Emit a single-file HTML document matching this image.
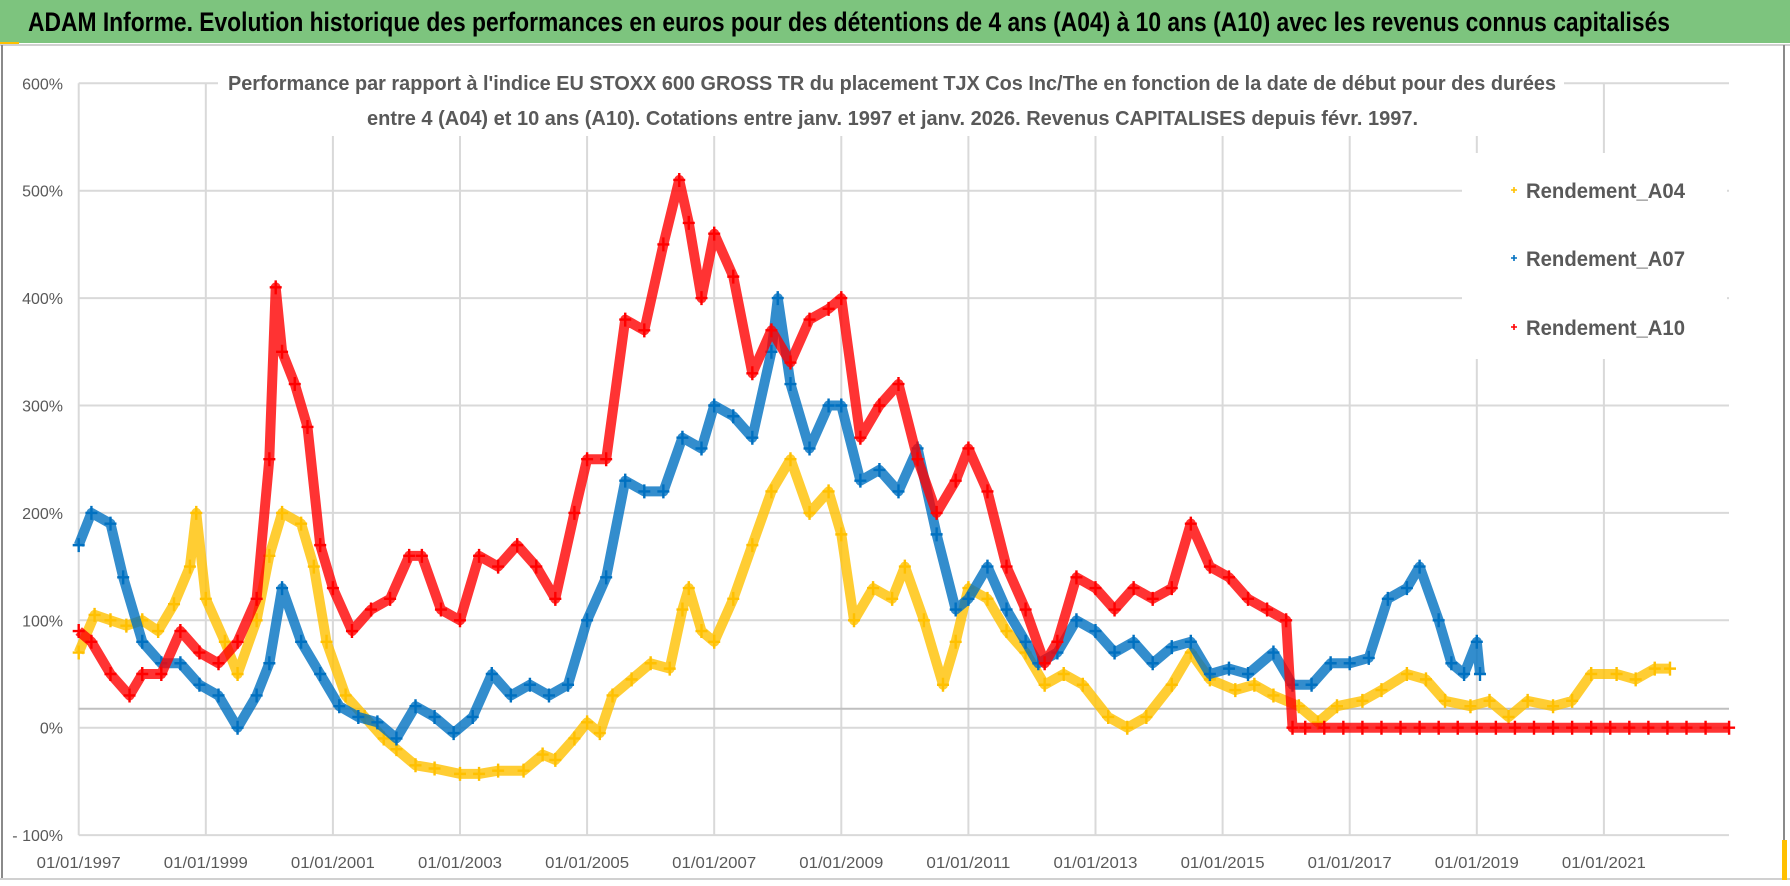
<!DOCTYPE html>
<html><head><meta charset="utf-8"><style>
html,body{margin:0;padding:0;background:#fff}
svg{display:block;font-family:"Liberation Sans",sans-serif}
</style></head><body>
<svg id="chart" width="1790" height="886" viewBox="0 0 1790 886">
<rect x="0" y="0" width="1790" height="886" fill="#fff"/>
<rect x="0" y="0" width="1790" height="43" fill="#7dc47e"/>
<rect x="0" y="42" width="19" height="3" fill="#ffc000"/>
<line x1="0" y1="45" x2="1790" y2="45" stroke="#d0d0d0" stroke-width="2"/>
<text x="28" y="31" font-size="27" font-weight="bold" fill="#000" textLength="1642" lengthAdjust="spacingAndGlyphs">ADAM Informe. Evolution historique des performances en euros pour des détentions de 4 ans (A04) à 10 ans (A10) avec les revenus connus capitalisés</text>
<line x1="2" y1="45" x2="2" y2="880" stroke="#8a8a8a" stroke-width="2"/>
<line x1="1784" y1="45" x2="1784" y2="880" stroke="#8a8a8a" stroke-width="2"/>
<line x1="0" y1="879" x2="1790" y2="879" stroke="#d0d0d0" stroke-width="2"/>
<rect x="1782" y="840" width="5" height="40" fill="#ffc000"/>
<g id="grid"></g>
<g id="series"></g>
<g id="overlay"></g>
</svg>
<script>
const NS='http://www.w3.org/2000/svg';
const yTicks=[600,500,400,300,200,100,0,-100];
const yTickLabels=['600%','500%','400%','300%','200%','100%','0%','- 100%'];
const xTickYears=[1997,1999,2001,2003,2005,2007,2009,2011,2013,2015,2017,2019,2021];
const xTickLabels=['01/01/1997','01/01/1999','01/01/2001','01/01/2003','01/01/2005','01/01/2007','01/01/2009','01/01/2011','01/01/2013','01/01/2015','01/01/2017','01/01/2019','01/01/2021'];
const refLineValue=17.7;

const a04Dates=[1997.0,1997.25,1997.5,1997.75,1998.0,1998.25,1998.5,1998.75,1998.85,1999.0,1999.3,1999.5,1999.8,2000.0,2000.2,2000.5,2000.7,2000.9,2001.2,2001.5,2001.8,2002.0,2002.3,2002.6,2003.0,2003.3,2003.6,2004.0,2004.3,2004.5,2004.8,2005.0,2005.2,2005.4,2005.7,2006.0,2006.3,2006.5,2006.6,2006.8,2007.0,2007.3,2007.6,2007.9,2008.2,2008.5,2008.8,2009.0,2009.2,2009.5,2009.8,2010.0,2010.3,2010.6,2010.8,2011.0,2011.3,2011.6,2011.9,2012.2,2012.5,2012.8,2013.2,2013.5,2013.8,2014.2,2014.5,2014.8,2015.2,2015.5,2015.8,2016.2,2016.5,2016.8,2017.2,2017.5,2017.9,2018.2,2018.5,2018.9,2019.2,2019.5,2019.8,2020.2,2020.5,2020.8,2021.2,2021.5,2021.8,2022.04];
const a04Values=[70,105,100,95,100,90,115,150,200,120,80,50,100,160,200,190,150,80,30,10,-10,-20,-35,-38,-43,-43,-40,-40,-25,-30,-10,5,-5,30,45,60,55,110,130,90,80,120,170,220,250,200,220,180,100,130,120,150,100,40,80,130,120,90,70,40,50,40,10,0,10,40,70,45,35,40,30,20,5,20,25,35,50,45,25,20,25,10,25,20,25,50,50,45,55,55];

const a07Dates=[1997.0,1997.2,1997.5,1997.7,1998.0,1998.3,1998.6,1998.9,1999.2,1999.5,1999.8,2000.0,2000.2,2000.5,2000.8,2001.1,2001.4,2001.7,2002.0,2002.3,2002.6,2002.9,2003.2,2003.5,2003.8,2004.1,2004.4,2004.7,2005.0,2005.3,2005.6,2005.9,2006.2,2006.5,2006.8,2007.0,2007.3,2007.6,2007.9,2008.0,2008.2,2008.5,2008.8,2009.0,2009.3,2009.6,2009.9,2010.2,2010.5,2010.8,2011.0,2011.3,2011.6,2011.9,2012.1,2012.4,2012.7,2013.0,2013.3,2013.6,2013.9,2014.2,2014.5,2014.8,2015.1,2015.4,2015.8,2016.1,2016.4,2016.7,2017.0,2017.3,2017.6,2017.9,2018.1,2018.4,2018.6,2018.8,2019.0,2019.05];
const a07Values=[170,200,190,140,80,60,60,40,30,0,30,60,130,80,50,20,10,5,-10,20,10,-5,10,50,30,40,30,40,100,140,230,220,220,270,260,300,290,270,350,400,320,260,300,300,230,240,220,260,180,110,120,150,110,80,60,70,100,90,70,80,60,75,80,50,55,50,70,40,40,60,60,65,120,130,150,100,60,50,80,50];

const a10Dates=[1997.0,1997.2,1997.5,1997.8,1998.0,1998.3,1998.6,1998.9,1999.2,1999.5,1999.8,2000.0,2000.1,2000.2,2000.4,2000.6,2000.8,2001.0,2001.3,2001.6,2001.9,2002.2,2002.4,2002.7,2003.0,2003.3,2003.6,2003.9,2004.2,2004.5,2004.8,2005.0,2005.3,2005.6,2005.9,2006.2,2006.45,2006.6,2006.8,2007.0,2007.3,2007.6,2007.9,2008.2,2008.5,2008.8,2009.0,2009.3,2009.6,2009.9,2010.2,2010.5,2010.8,2011.0,2011.3,2011.6,2011.9,2012.2,2012.4,2012.7,2013.0,2013.3,2013.6,2013.9,2014.2,2014.5,2014.8,2015.1,2015.4,2015.7,2016.0,2016.1,2016.3,2016.6,2016.9,2017.2,2017.5,2017.8,2018.1,2018.4,2018.7,2019.0,2019.3,2019.6,2019.9,2020.2,2020.5,2020.8,2021.1,2021.4,2021.7,2022.0,2022.3,2022.6,2022.97];
const a10Values=[90,80,50,30,50,50,90,70,60,80,120,250,410,350,320,280,170,130,90,110,120,160,160,110,100,160,150,170,150,120,200,250,250,380,370,450,510,470,400,460,420,330,370,340,380,390,400,270,300,320,250,200,230,260,220,150,110,60,80,140,130,110,130,120,130,190,150,140,120,110,100,0,0,0,0,0,0,0,0,0,0,0,0,0,0,0,0,0,0,0,0,0,0,0,0];

const X0=78.7, PX_PER_YEAR=63.55, Y0=727.7, PX_PER_PCT=1.074;
const xScale=t=>X0+(t-1997)*PX_PER_YEAR;
const yScale=v=>Y0-v*PX_PER_PCT;
const plotRight=1729;

function el(tag,attrs,parent){const e=document.createElementNS(NS,tag);for(const k in attrs)e.setAttribute(k,attrs[k]);parent.appendChild(e);return e;}
const grid=document.getElementById('grid'),series=document.getElementById('series'),overlay=document.getElementById('overlay');

yTicks.forEach((v,i)=>{
  const y=yScale(v);
  const l=el('line',{x1:X0,x2:plotRight,y1:y,y2:y,stroke:'#d9d9d9','stroke-width':2},grid);
  
  
  const t=el('text',{x:63,y:y+6,'text-anchor':'end','font-size':16,fill:'#595959'},grid);
  t.textContent=yTickLabels[i];
  
  
});
xTickYears.forEach((yr,i)=>{
  const x=xScale(yr);
  const l=el('line',{x1:x,x2:x,y1:yScale(600),y2:yScale(-100),stroke:'#d9d9d9','stroke-width':2},grid);
  
  
  const t=el('text',{x:x,y:868,'text-anchor':'middle','font-size':16,fill:'#595959',textLength:84,lengthAdjust:'spacingAndGlyphs'},grid);
  t.textContent=xTickLabels[i];
  
  
});
const ref=el('line',{x1:X0,x2:plotRight,y1:yScale(refLineValue),y2:yScale(refLineValue),stroke:'#bfbfbf','stroke-width':2},grid);



function drawSeries(dates,values,color,name){
  const g=el('g',{},series);
  
  
  const pts=dates.map((d,i)=>xScale(d).toFixed(1)+','+yScale(values[i]).toFixed(1)).join(' ');
  const pl=el('polyline',{points:pts,fill:'none',stroke:color,'stroke-width':10,'stroke-opacity':0.8,'stroke-linejoin':'round'},g);
  
  
  dates.forEach((d,i)=>{
    const x=xScale(d),y=yScale(values[i]);
    const p=el('path',{d:`M${x-6},${y}h12M${x},${y-7}v14`,stroke:color,'stroke-width':2.4},g);
    
    
  });
}
drawSeries(a04Dates,a04Values,'#ffc000','series-a04');
drawSeries(a07Dates,a07Values,'#0070c0','series-a07');
drawSeries(a10Dates,a10Values,'#ff0000','series-a10');

const tb=el('rect',{x:218,y:60,width:1346,height:76,fill:'#fff'},overlay);


const t1=el('text',{x:228,y:90,'font-size':20,'font-weight':'bold',fill:'#595959',textLength:1328,lengthAdjust:'spacingAndGlyphs'},overlay);
t1.textContent="Performance par rapport à l'indice EU STOXX 600 GROSS TR  du placement TJX Cos Inc/The en fonction de la date de début pour des durées";


const t2=el('text',{x:367,y:125,'font-size':20,'font-weight':'bold',fill:'#595959',textLength:1051,lengthAdjust:'spacingAndGlyphs'},overlay);
t2.textContent="entre 4 (A04) et 10 ans (A10).  Cotations entre janv. 1997 et janv. 2026. Revenus CAPITALISES depuis févr. 1997.";



const lb=el('rect',{x:1462,y:153,width:265,height:206,fill:'#fff'},overlay);


const legendNames=['Rendement_A04','Rendement_A07','Rendement_A10'];
const legendColors=['#ffc000','#0070c0','#ff0000'];
const legendY=[190,258,327];
legendNames.forEach((n,i)=>{
  const g=el('g',{},overlay);
  
  
  const y=legendY[i];
  el('path',{d:`M1511,${y}h6M1514,${y-3}v6`,stroke:legendColors[i],'stroke-width':1.6},g);
  const t=el('text',{x:1526,y:y+8,'font-size':21,'font-weight':'bold',fill:'#595959',textLength:159,lengthAdjust:'spacingAndGlyphs'},g);
  t.textContent=n;
  
  
});
</script>
</body></html>
